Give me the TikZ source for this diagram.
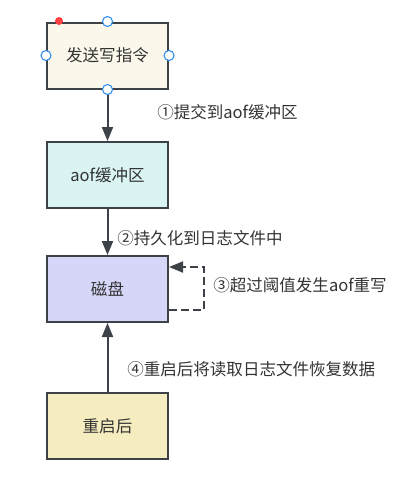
\documentclass[tikz,border=0pt]{standalone}
\usepackage{fontspec}
\setmainfont{Noto Sans CJK SC}
\usetikzlibrary{arrows.meta}
\definecolor{edgegray}{HTML}{3C4248}
\definecolor{textgray}{HTML}{333333}
\definecolor{handleblue}{HTML}{2D8CF0}
\begin{document}
\begin{tikzpicture}[x=0.75pt,y=-0.75pt,font=\fontsize{12.4pt}{14pt}\selectfont,text=textgray]
\tikzstyle{mybox}=[draw=edgegray,line width=1.5pt,minimum width=90.75pt,minimum height=49.5pt,inner sep=0pt];
\tikzstyle{myarrow}=[line width=1.5pt,draw=edgegray,-{Triangle[width=8.25pt,length=10.5pt]}];
\tikzstyle{mylabel}=[anchor=west,inner sep=0pt];
\tikzstyle{myhandle}=[circle,draw=handleblue,fill=white,line width=0.8pt,minimum size=7.5pt,inner sep=0pt];

\useasboundingbox (0,0) rectangle (414,486);

\def \boxx{107.5};
\node[mybox,fill={rgb,255:red,251;green,248;blue,235}] (write) at (\boxx,55.5) {发送写指令};
\node[mybox,fill={rgb,255:red,218;green,243;blue,243}] (buffer) at (\boxx,175) {aof缓冲区};
\node[mybox,fill={rgb,255:red,213;green,214;blue,248}] (disk) at (\boxx,289) {磁盘};
\node[mybox,fill={rgb,255:red,245;green,237;blue,192}] (restart) at (\boxx,426) {重启后};

\draw [myarrow] (write) -- (buffer); % submit
\draw [myarrow] (buffer) -- (disk); % persist
\draw [myarrow] (restart) -- (disk); % reload

% rewrite loop
\draw [myarrow,dash pattern=on 6pt off 3pt,line width=1.4pt] ([yshift=-15.75pt]disk.east) -- ++(35,0) -- ++(0,-43) -- ([yshift=16.5pt]disk.east);

\node[mylabel] (l1) at (157,112) {①提交到aof缓冲区};
\node[mylabel] (l2) at (117,238) {②持久化到日志文件中};
\node[mylabel] (l3) at (213,285) {③超过阈值发生aof重写};
\node[mylabel] (l4) at (127,369) {④重启后将读取日志文件恢复数据};

% selection handles
\node[myhandle] (h1) at (write.north) {};
\node[myhandle] (h2) at (write.west) {};
\node[myhandle] (h3) at (write.east) {};
\node[myhandle] (h4) at (write.south) {};
\fill [red!75] (59,21) circle (3pt);

\end{tikzpicture}
\end{document}
